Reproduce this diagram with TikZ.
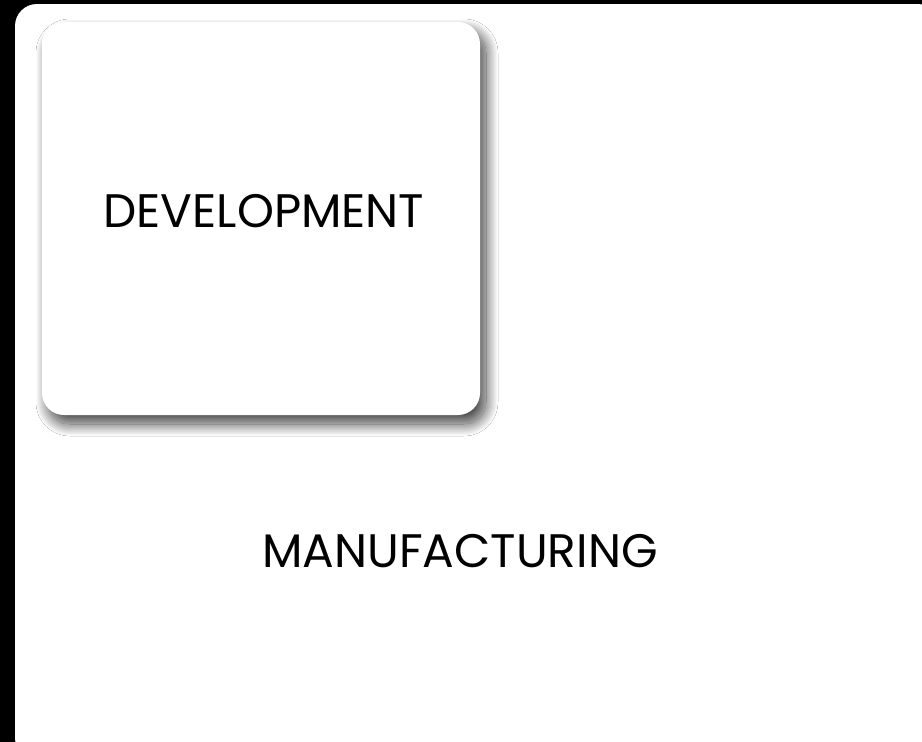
\documentclass[tikz,border=0pt]{standalone}
\usepackage{fontspec}
\setmainfont{Poppins}
\usetikzlibrary{shadows.blur}

\tikzset{
  stage/.style={font=\fontsize{47}{52}\selectfont, text=black},
  card/.style={fill=white, rounded corners=22pt, minimum width=438pt, minimum height=393pt,
    blur shadow={shadow xshift=6pt, shadow yshift=-9pt, shadow blur radius=12pt,
      shadow blur steps=40, shadow opacity=75}},
}

\begin{document}
\begin{tikzpicture}[x=1pt,y=-1pt]
  \useasboundingbox (0,0) rectangle (922,742);
  \clip (0,0) rectangle (922,742);
  \fill[black] (0,0) rectangle (922,742);
  % outer frame
  \fill[white, rounded corners=22pt] (15,4) rectangle (940,760);
  \node[stage] at (460,551.5) (manu) {MANUFACTURING};
  % inner card
  \node[card] at (261,218.5) (dev) {};
  \node[stage] at (264,211) (devtext) {DEVELOPMENT};
\end{tikzpicture}
\end{document}
